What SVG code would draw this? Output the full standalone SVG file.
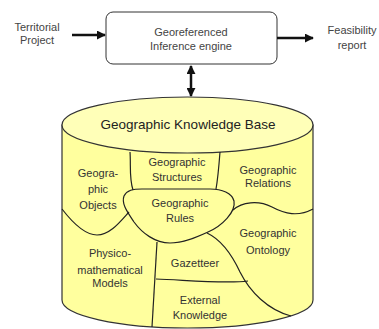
<svg xmlns="http://www.w3.org/2000/svg" width="379" height="329" viewBox="0 0 379 329">
<defs>
<marker id="ah" viewBox="0 0 10 10" refX="9" refY="5" markerWidth="3.6" markerHeight="3.6" orient="auto-start-reverse" markerUnits="strokeWidth">
<path d="M0,0 L10,5 L0,10 Z" fill="#111"/>
</marker>
</defs>
<style>
text{font-family:"Liberation Sans",Arial,sans-serif;font-size:11px;fill:#333;text-anchor:middle}
.top{fill:#444}
.title{font-size:13.5px;fill:#222}
.div{fill:none;stroke:#222;stroke-width:1.2}
.arrow{fill:none;stroke:#111;stroke-width:2.5}
</style>
<rect width="379" height="329" fill="#fff"/>
<g id="territorial-project">
<text class="top" x="37" y="31">Territorial</text>
<text class="top" x="37" y="44">Project</text>
</g>
<g id="inference-engine">
<rect x="106" y="12" width="171" height="52" rx="7" fill="#fff" stroke="#333" stroke-width="1"/>
<text class="top" x="191" y="36">Georeferenced</text>
<text class="top" x="191" y="50">Inference engine</text>
</g>
<g id="feasibility-report">
<text class="top" x="352" y="34">Feasibility</text>
<text class="top" x="352" y="49">report</text>
</g>
<g id="knowledge-base">
<path d="M62,125 L62,300 A125.5,28 0 0 0 313,300 L313,125 Z" fill="#FFFF9E" stroke="#333" stroke-width="1.2"/>
<ellipse cx="187.5" cy="125" rx="125.5" ry="28" fill="#FFFFB8" stroke="#333" stroke-width="1.2"/>
<text class="title" x="188" y="129">Geographic Knowledge Base</text>
</g>
<g id="regions">
<path class="div" d="M130,152 C131,165 129,178 133,190"/>
<path class="div" d="M220,152 C219,165 218,178 216,189"/>
<path class="div" d="M124,196 C127,190 133,189 142,189 L210,189 C222,189 232,193 234,201 C236,212 222,226 208,232 C195,238 183,243 170,243 C155,243 142,233 134,222 C128,213 121,204 124,196 Z"/>
<path class="div" d="M233,210 C242,202 258,200 272,207 C285,214 298,217 313,209"/>
<path class="div" d="M62,209 C72,222 85,235 97,235 C110,235 120,222 129,212"/>
<path class="div" d="M157,242 C156,260 154,290 152,327"/>
<path class="div" d="M156,279 C185,280 225,284 248,281"/>
<path class="div" d="M207,233 C222,240 232,255 240,272 C250,292 268,310 291,316"/>
</g>
<g id="geographic-objects">
<text x="98" y="177">Geogra-</text>
<text x="98" y="193">phic</text>
<text x="98" y="209">Objects</text>
</g>
<g id="geographic-structures">
<text x="177" y="166">Geographic</text>
<text x="177" y="181">Structures</text>
</g>
<g id="geographic-relations">
<text x="268" y="174">Geographic</text>
<text x="268" y="187">Relations</text>
</g>
<g id="geographic-rules">
<text x="180" y="207">Geographic</text>
<text x="180" y="222">Rules</text>
</g>
<g id="geographic-ontology">
<text x="268" y="237">Geographic</text>
<text x="268" y="254">Ontology</text>
</g>
<g id="physico-mathematical-models">
<text x="110" y="257">Physico-</text>
<text x="110" y="274">mathematical</text>
<text x="110" y="287">Models</text>
</g>
<g id="gazetteer">
<text x="195" y="267">Gazetteer</text>
</g>
<g id="external-knowledge">
<text x="200" y="304">External</text>
<text x="200" y="319">Knowledge</text>
</g>
<g id="connectors">
<line class="arrow" x1="72" y1="35" x2="105" y2="35" marker-end="url(#ah)"/>
<line class="arrow" x1="277" y1="38" x2="313" y2="38" marker-end="url(#ah)"/>
<line class="arrow" x1="191" y1="66" x2="191" y2="96" marker-start="url(#ah)" marker-end="url(#ah)"/>
</g>
</svg>
